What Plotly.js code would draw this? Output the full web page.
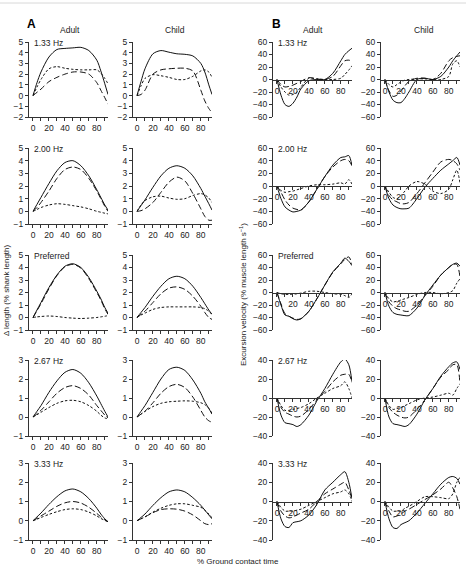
<!DOCTYPE html>
<html><head><meta charset="utf-8">
<script src="https://cdn.plot.ly/plotly-3.0.1.min.js"></script>
<style>html,body{margin:0;padding:0;background:#fff}#chart{width:466px;height:566px}</style>
</head><body><div id="chart"></div>
<script>
const W = 466, H = 566;
const xA = [0,5,10,20,30,40,50,60,70,80,85,90,94];
const xB = [0,5,10,15,20,25,30,40,50,60,70,80,85,90,94];
const rowLabels = ['1.33 Hz','2.00 Hz','Preferred','2.67 Hz','3.33 Hz'];
const colTitles = ['Adult','Child','Adult','Child'];

// Δ length (% shank length): [solid, long dash, short dash]
const lenAdult133 = [[0,1.2,2.2,3.6,4.3,4.4,4.45,4.5,4.2,3.3,2.3,1.1,0.1],
                     [0,0.3,0.6,1.3,1.7,2.0,2.2,2.2,2.0,1.2,0.5,-0.2,-0.8],
                     [0,0.8,1.5,2.5,2.7,2.55,2.45,2.4,2.4,2.4,2.1,1.6,1.1]];
const lenChild133 = [[0,1.3,2.5,3.9,4.2,4.05,3.9,3.85,3.7,3.0,2.2,1.0,0.1],
                     [0,0.1,0.5,2.0,2.4,2.5,2.55,2.55,2.3,0.5,-0.5,-1.2,-1.6],
                     [0,0.9,1.6,1.95,1.85,1.7,1.5,1.5,1.8,2.3,2.4,2.2,1.7]];
const lenAdult200 = [[0,0.55,1.1,2.2,3.2,3.85,4.0,3.6,2.8,1.7,1.1,0.5,0.1],
                     [0,0.3,0.7,1.6,2.6,3.3,3.5,3.3,2.6,1.6,1.0,0.4,0.0],
                     [0,0.15,0.3,0.5,0.6,0.55,0.45,0.35,0.2,0.0,-0.07,-0.15,-0.2]];
const lenChild200 = [[0,0.45,0.9,1.9,2.8,3.4,3.6,3.4,2.8,1.8,1.2,0.6,0.1],
                     [0,0.05,0.2,0.7,1.5,2.3,2.7,2.4,1.4,0.2,-0.4,-0.7,-0.7],
                     [0,0.5,0.85,1.15,1.2,1.05,0.95,1.0,1.25,1.4,1.3,1.05,0.7]];
const lenAdultPref = [[0,0.6,1.2,2.4,3.4,4.1,4.3,4.0,3.2,2.1,1.5,0.8,0.35],
                      [0,0.55,1.1,2.3,3.35,4.05,4.25,3.95,3.1,2.0,1.4,0.7,0.25],
                      [0,0.05,0.08,0.12,0.08,0.0,-0.05,-0.08,-0.05,0.0,0.05,0.1,0.15]];
const lenChildPref = [[0,0.4,0.8,1.7,2.5,3.1,3.3,3.1,2.5,1.6,1.1,0.6,0.25],
                      [0,0.25,0.5,1.2,1.9,2.35,2.45,2.25,1.7,0.9,0.4,0.0,-0.15],
                      [0,0.2,0.35,0.65,0.8,0.85,0.85,0.85,0.85,0.8,0.7,0.5,0.25]];
const lenAdult267 = [[0,0.3,0.6,1.3,1.9,2.35,2.5,2.3,1.8,1.1,0.7,0.3,0.0],
                     [0,0.17,0.35,0.8,1.25,1.55,1.65,1.5,1.15,0.6,0.35,0.1,-0.05],
                     [0,0.12,0.25,0.5,0.72,0.85,0.88,0.8,0.6,0.3,0.1,-0.05,-0.1]];
const lenChild267 = [[0,0.3,0.6,1.3,2.0,2.5,2.62,2.45,1.95,1.25,0.8,0.45,0.15],
                     [0,0.15,0.3,0.75,1.25,1.6,1.72,1.55,1.05,0.35,0.0,-0.2,-0.28],
                     [0,0.15,0.3,0.55,0.72,0.8,0.83,0.85,0.83,0.75,0.65,0.45,0.2]];
const lenAdult333 = [[0,0.2,0.4,0.85,1.25,1.55,1.65,1.5,1.15,0.65,0.35,0.1,-0.05],
                     [0,0.12,0.25,0.5,0.75,0.93,1.0,0.92,0.7,0.38,0.2,0.05,-0.05],
                     [0,0.08,0.17,0.33,0.47,0.58,0.62,0.58,0.45,0.25,0.12,0.02,-0.05]];
const lenChild333 = [[0,0.17,0.35,0.8,1.2,1.5,1.6,1.5,1.2,0.8,0.55,0.3,0.1],
                     [0,0.1,0.2,0.42,0.58,0.62,0.6,0.5,0.3,0.0,-0.15,-0.2,-0.15],
                     [0,0.1,0.2,0.45,0.65,0.8,0.88,0.88,0.8,0.7,0.55,0.35,0.15]];

// Excursion velocity (% muscle length s^-1): [solid, long dash, short dash]
const velAdult133 = [[0,-25,-40,-43,-38,-28,-15,-2,0,0,10,30,40,46,50],
                     [0,-8,-12,-11,-9,-6,-3,3,1,0,5,22,30,31,29],
                     [0,-12,-20,-25,-24,-20,-12,2,1,0,0,2,8,15,22]];
const velChild133 = [[0,-20,-33,-37,-37,-30,-20,0,2,0,5,20,30,38,44],
                     [0,-18,-27,-25,-18,-10,-3,2,2,0,10,30,35,37,38],
                     [0,-8,-12,-8,-4,-1,0,1,1,0,0,5,25,30,20]];
const velAdult200 = [[0,-20,-33,-38,-41,-40,-38,-25,-5,15,33,45,46,48,32],
                     [0,-10,-22,-30,-35,-37,-38,-25,-5,15,30,40,42,40,32],
                     [0,-7,-10,-9,-8,-6,-4,0,2,2,3,5,3,10,3]];
const velChild200 = [[0,-20,-30,-34,-36,-36,-35,-20,-2,12,25,35,40,45,33],
                     [0,-15,-22,-25,-28,-28,-26,-12,5,22,38,42,40,35,25],
                     [0,-10,-18,-20,-15,-8,0,7,3,-8,-12,-5,10,25,5]];
const velAdultPref = [[0,-20,-36,-38,-42,-44,-42,-30,-10,12,33,47,55,50,43],
                      [0,-18,-34,-38,-41,-43,-42,-30,-10,12,32,46,53,57,45],
                      [0,-2,-3,-3,-3,-2,-1,2,2,0,-2,-3,-5,-8,-2]];
const velChildPref = [[0,-22,-32,-35,-36,-37,-37,-25,-5,12,28,40,45,47,42],
                      [0,-15,-22,-26,-28,-30,-30,-20,-5,10,28,40,45,45,25],
                      [0,-10,-15,-14,-12,-10,-8,-3,0,0,-2,0,3,15,22]];
const velAdult267 = [[0,-18,-26,-27,-28,-30,-28,-18,-3,10,25,38,41,35,17],
                     [0,-10,-15,-17,-19,-20,-19,-12,-2,7,17,24,25,25,16],
                     [0,-8,-13,-13,-12,-11,-10,-6,0,5,10,13,17,10,0]];
const velChild267 = [[0,-20,-27,-28,-29,-30,-28,-17,-2,10,23,33,37,38,30],
                     [0,-10,-15,-18,-20,-21,-20,-12,-2,10,22,30,35,35,15],
                     [0,-8,-12,-11,-10,-8,-6,-2,0,1,3,5,3,10,15]];
const velAdult333 = [[0,-18,-26,-27,-22,-21,-20,-14,-3,12,20,28,31,20,3],
                     [0,-10,-15,-17,-16,-14,-12,-8,0,8,13,18,20,12,3],
                     [0,-6,-10,-10,-10,-9,-8,-4,0,4,8,10,12,8,0]];
const velChild333 = [[0,-18,-27,-28,-24,-22,-20,-12,-2,8,18,25,26,24,18],
                     [0,-10,-16,-15,-13,-10,-8,-3,2,7,13,20,14,5,-8],
                     [0,-6,-10,-10,-10,-7,-5,0,5,5,4,3,8,20,25]];

const columns = [
  [lenAdult133, lenAdult200, lenAdultPref, lenAdult267, lenAdult333],
  [lenChild133, lenChild200, lenChildPref, lenChild267, lenChild333],
  [velAdult133, velAdult200, velAdultPref, velAdult267, velAdult333],
  [velChild133, velChild200, velChildPref, velChild267, velChild333]
];

const colPx = [[29,108],[133,212],[273,352],[381,460]];
const rowPx = [[42,117],[148,224],[255,330],[360,436],[463,540]];
const yRangesA = [[-2,5],[-1,5],[-1,5],[-1,3],[-1,3]];
const yRangesB = [[-60,60],[-60,60],[-60,60],[-40,40],[-40,40]];
const dashes = ['solid','6px,3px','2.5px,2px'];

const FONT = 'Liberation Sans, Arial, Helvetica, sans-serif';
const TXT = '#222';
const AX = '#333';
const FS = 8.5;
const FT = 8;

const traces = [];
const layout = {
  width: W, height: H,
  margin: {l:0, r:0, t:0, b:0},
  paper_bgcolor: '#fff', plot_bgcolor: 'rgba(0,0,0,0)',
  showlegend: false,
  font: {family: FONT, size: FS, color: TXT},
  annotations: [],
  shapes: [{type:'line', xref:'paper', yref:'paper', x0:0, x1:1, y0:1-3/H, y1:1-3/H, line:{color:'#d8d8d8', width:1}}]
};

for (let r = 0; r < 5; r++) {
  for (let c = 0; c < 4; c++) {
    const k = r*4 + c + 1;
    const xid = k === 1 ? 'x' : 'x' + k;
    const yid = k === 1 ? 'y' : 'y' + k;
    const xd = [colPx[c][0]/W, colPx[c][1]/W];
    const yd = [1 - rowPx[r][1]/H, 1 - rowPx[r][0]/H];
    const isB = c >= 2;
    const xs = isB ? xB : xA;
    const data = columns[c][r];
    data.forEach((ys, i) => {
      traces.push({
        type: 'scatter', mode: 'lines', x: xs, y: ys, xaxis: xid, yaxis: yid,
        line: {color: '#111', width: 1, dash: dashes[i], shape: 'spline', smoothing: 0.8},
        hoverinfo: 'skip', cliponaxis: true
      });
    });
    const xa = {
      domain: xd, range: [-5, 94], tick0: 0, dtick: 20,
      ticks: 'outside', ticklen: 3, tickwidth: 1, tickcolor: AX,
      minor: {dtick: 10, tick0: 0, ticks: 'outside', ticklen: 3, tickwidth: 1, tickcolor: AX, showgrid: false},
      showline: true, linecolor: AX, linewidth: 1, showgrid: false, zeroline: false,
      tickfont: {family: FONT, size: FS, color: TXT}, fixedrange: true
    };
    if (isB) { xa.anchor = 'free'; xa.position = (yd[0] + yd[1]) / 2; }
    else { xa.anchor = yid; }
    const ya = {
      domain: yd, range: isB ? yRangesB[r] : yRangesA[r], dtick: isB ? 20 : 1, tick0: 0,
      ticks: 'outside', ticklen: 3, tickwidth: 1, tickcolor: AX,
      showline: true, linecolor: AX, linewidth: 1, showgrid: false, zeroline: false,
      anchor: xid, tickfont: {family: FONT, size: FS, color: TXT}, fixedrange: true
    };
    layout[k === 1 ? 'xaxis' : 'xaxis' + k] = xa;
    layout[k === 1 ? 'yaxis' : 'yaxis' + k] = ya;

    if (c === 0 || c === 2) {
      layout.annotations.push({
        xref: 'paper', yref: 'paper', x: (colPx[c][0] + 3)/W, y: 1 - (rowPx[r][0] + 1)/H,
        xanchor: 'left', yanchor: 'middle', text: rowLabels[r], showarrow: false,
        font: {family: FONT, size: FS, color: TXT}
      });
    }
  }
}

const colTitleX = [69.5, 175, 313, 424];
colTitles.forEach((t, c) => layout.annotations.push({
  xref:'paper', yref:'paper', x: colTitleX[c]/W, y: 1 - 29.5/H, xanchor:'center', yanchor:'middle',
  text: t, showarrow:false, font:{family:FONT, size:FS, color:TXT}
}));
layout.annotations.push({xref:'paper', yref:'paper', x:31/W, y:1-24.5/H, xanchor:'center', yanchor:'middle',
  text:'<b>A</b>', showarrow:false, font:{family:FONT, size:12, color:'#000'}});
layout.annotations.push({xref:'paper', yref:'paper', x:276.5/W, y:1-24.5/H, xanchor:'center', yanchor:'middle',
  text:'<b>B</b>', showarrow:false, font:{family:FONT, size:12, color:'#000'}});
layout.annotations.push({xref:'paper', yref:'paper', x:238/W, y:1-561/H, xanchor:'center', yanchor:'middle',
  text:'% Ground contact time', showarrow:false, font:{family:FONT, size:FT, color:TXT}});
layout.annotations.push({xref:'paper', yref:'paper', x:6/W, y:1-290/H, xanchor:'center', yanchor:'middle',
  text:'Δ length (% shank length)', textangle:-90, showarrow:false, font:{family:FONT, size:FT, color:TXT}});
layout.annotations.push({xref:'paper', yref:'paper', x:243/W, y:1-295/H, xanchor:'center', yanchor:'middle',
  text:'Excursion velocity (% muscle length s<sup>−1</sup>)', textangle:-90, showarrow:false, font:{family:FONT, size:FT, color:TXT}});

Plotly.newPlot('chart', traces, layout, {staticPlot: true, displayModeBar: false});
</script>
</body></html>
